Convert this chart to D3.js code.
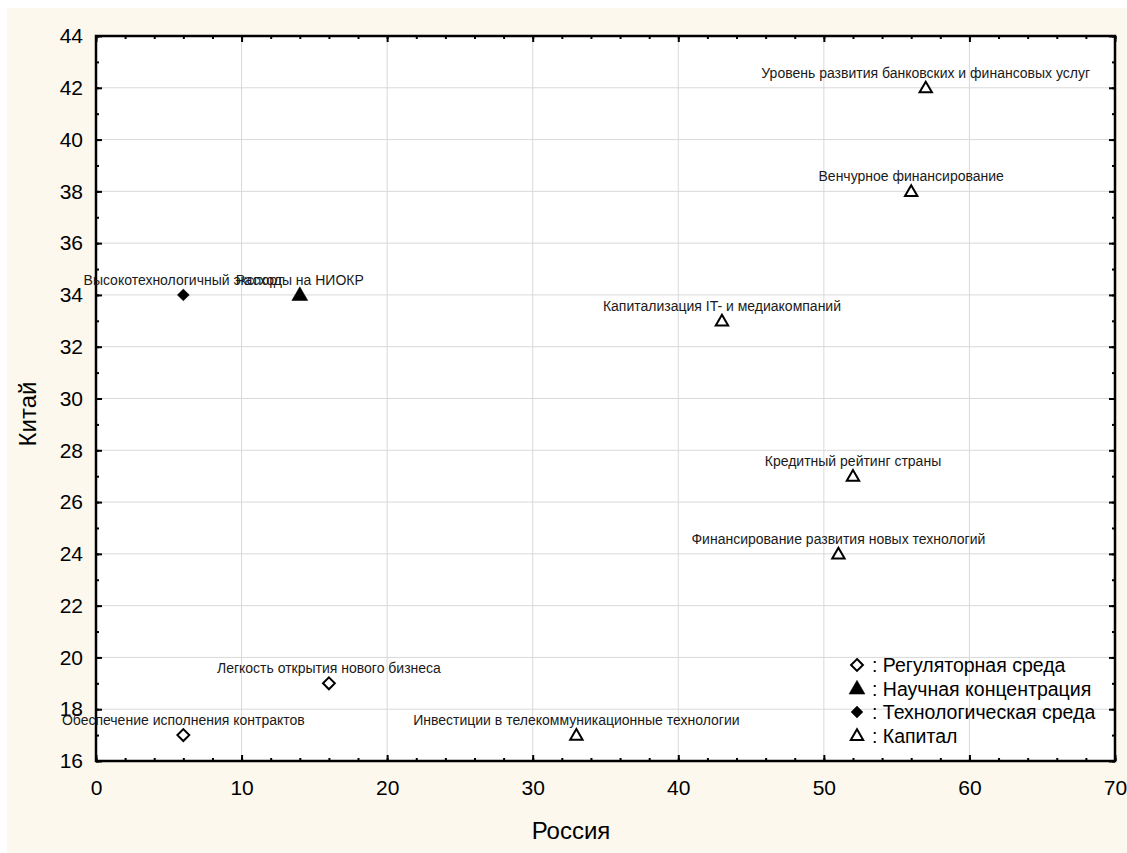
<!DOCTYPE html>
<html><head><meta charset="utf-8">
<script src="https://cdn.jsdelivr.net/npm/d3@7"></script>
<style>body{margin:0;background:#fff}svg{display:block}</style>
</head><body>
<script>
const groups = ["Регуляторная среда","Научная концентрация","Технологическая среда","Капитал"];
const labels = ["Обеспечение исполнения контрактов","Легкость открытия нового бизнеса","Расходы на НИОКР","Высокотехнологичный экспорт","Уровень развития банковских и финансовых услуг","Венчурное финансирование","Капитализация IT- и медиакомпаний","Кредитный рейтинг страны","Финансирование развития новых технологий","Инвестиции в телекоммуникационные технологии"];
const russia = [6,16,14,6,57,56,43,52,51,33];
const china = [17,19,34,34,42,38,33,27,24,17];
const groupIdx = [0,0,1,2,3,3,3,3,3,3];
const xTicks = [0,10,20,30,40,50,60,70];
const yTicks = [16,18,20,22,24,26,28,30,32,34,36,38,40,42,44];

const W=1127,H=853;
const svg=d3.select("body").append("svg").attr("width",W).attr("height",H);
svg.append("rect").attr("x",7).attr("y",8).attr("width",W-7).attr("height",H-8).attr("fill","#fdf8ee");
const L=96,R=1115,T=36,B=761;
const x=d3.scaleLinear().domain([0,70]).range([L,R]);
const y=d3.scaleLinear().domain([16,44]).range([B,T]);
svg.append("rect").attr("x",L).attr("y",T).attr("width",R-L).attr("height",B-T).attr("fill","#fff");
const grid=svg.append("g").attr("stroke","#d9d9d9").attr("stroke-width",1);
xTicks.slice(1,-1).forEach(v=>grid.append("line").attr("x1",x(v)).attr("x2",x(v)).attr("y1",T).attr("y2",B));
yTicks.slice(1,-1).forEach(v=>grid.append("line").attr("y1",y(v)).attr("y2",y(v)).attr("x1",L).attr("x2",R));

const font="Liberation Sans, Arial, sans-serif";
function ax(axis,tr){const g=svg.append("g").attr("transform",tr).call(axis);g.select(".domain").remove();g.selectAll("line").attr("stroke","#000").attr("stroke-width",2);g.selectAll("text").attr("font-family",font).attr("font-size",21).attr("fill","#000");return g;}
const xMinor=d3.range(0,71,2), yMinor=d3.range(16,45,1);
ax(d3.axisBottom(x).tickValues(xTicks).tickSize(-6).tickPadding(19).tickFormat(d3.format("d")),`translate(0,${B})`);
ax(d3.axisBottom(x).tickValues(xMinor).tickSize(-3).tickFormat(""),`translate(0,${B})`);
ax(d3.axisTop(x).tickValues(xTicks).tickSize(-6).tickFormat(""),`translate(0,${T})`);
ax(d3.axisTop(x).tickValues(xMinor).tickSize(-3).tickFormat(""),`translate(0,${T})`);
ax(d3.axisLeft(y).tickValues(yTicks).tickSize(-6).tickPadding(13).tickFormat(d3.format("d")),`translate(${L},0)`);
ax(d3.axisLeft(y).tickValues(yMinor).tickSize(-3).tickFormat(""),`translate(${L},0)`);
ax(d3.axisRight(y).tickValues(yTicks).tickSize(-6).tickFormat(""),`translate(${R},0)`);
ax(d3.axisRight(y).tickValues(yMinor).tickSize(-3).tickFormat(""),`translate(${R},0)`);
svg.append("rect").attr("x",L).attr("y",T).attr("width",R-L).attr("height",B-T).attr("fill","none").attr("stroke","#000").attr("stroke-width",2.5);

svg.append("text").attr("x",571).attr("y",839).attr("text-anchor","middle").attr("font-family",font).attr("font-size",24).text("Россия");
svg.append("text").attr("transform",`translate(36,414) rotate(-90)`).attr("text-anchor","middle").attr("font-family",font).attr("font-size",24).text("Китай");

const filled=[false,true,true,false];
function sym(g,i,cx,cy){
  const s=i===1?d3.symbol(d3.symbolTriangle,110):i===3?d3.symbol(d3.symbolTriangle2,110):d3.symbol(d3.symbolDiamond2,90);
  g.append("path").attr("d",s()).attr("transform",`translate(${cx},${cy+(i===1||i===3?1:0)})`)
   .attr("fill",filled[i]?"#000":"#fff").attr("stroke","#000").attr("stroke-width",filled[i]?0.5:2);
}
const pts=svg.append("g");
labels.forEach((lab,k)=>{
  sym(pts,groupIdx[k],x(russia[k]),y(china[k]));
  pts.append("text").attr("x",x(russia[k])).attr("y",y(china[k])-10).attr("text-anchor","middle")
   .attr("font-family",font).attr("font-size",14).attr("fill","#1a1a1a").text(lab);
});
const leg=svg.append("g");
groups.forEach((gname,i)=>{
  const yy=665+i*23.5;
  sym(leg,i,857,yy);
  leg.append("text").attr("x",872).attr("y",yy+7).attr("font-family",font).attr("font-size",19.5).attr("fill","#000").text(": "+gname);
});
</script>
</body></html>
